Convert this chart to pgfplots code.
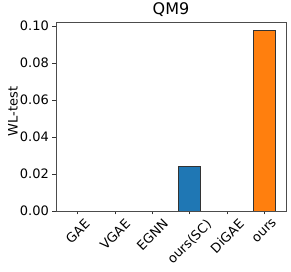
\documentclass[border=0pt]{standalone}
\usepackage{pgfplots}
\pgfplotsset{compat=1.18}
\usepackage{graphicx}
\usepackage{fontspec}
\setmainfont{DejaVu Sans}
\definecolor{mplblue}{HTML}{1F77B4}
\definecolor{mplorange}{HTML}{FF7F0E}
\begin{document}
\begin{tikzpicture}
\useasboundingbox (-56pt,-61pt) rectangle (235pt,211pt);
\begin{axis}[
  at={(0,0)}, anchor=south west,
  scale only axis, width=230pt, height=189pt,
  xmin=-0.58, xmax=5.58, ymin=0, ymax=0.1022,
  ybar, bar width=0.6, bar shift=0,
  xtick={0,1,2,3,4,5},
  xticklabels={\rotatebox{45}{GAE},\rotatebox{45}{VGAE},\rotatebox{45}{EGNN},\rotatebox{45}{ours(SC)},\rotatebox{45}{DiGAE},\rotatebox{45}{ours}},
  xticklabel style={anchor=north, inner sep=0pt, yshift=-3.5pt},
  ytick={0,0.02,0.04,0.06,0.08,0.10},
  /pgf/number format/fixed,
  /pgf/number format/fixed zerofill,
  /pgf/number format/precision=2,
  /pgf/number format/assume math mode=true,
  yticklabel style={inner sep=0pt, xshift=-3.5pt},
  tick align=outside, major tick length=3.5pt, tick pos=left,
  tick style={draw=black!80, line width=0.8pt},
  axis line style={draw=black!70, line width=0.8pt},
  ticklabel style={font=\fontsize{13}{15}\selectfont},
  title={QM9},
  title style={font=\fontsize{16}{19}\selectfont, anchor=base, at={(axis description cs:0.5,1)}, yshift=1pt},
  ylabel={WL-test},
  ylabel style={font=\fontsize{13}{15}\selectfont, at={(axis description cs:-0.1652,0.5265)}, anchor=south, inner sep=0pt},
]
\addplot[draw=black!20, fill=none, line width=0.8pt] coordinates {(0,0) (1,0) (2,0) (4,0)};
\addplot[draw=black!80, fill=mplblue, line width=0.8pt] coordinates {(3,0.0243)};
\addplot[draw=black!80, fill=mplorange, line width=0.8pt] coordinates {(5,0.0978)};
\end{axis}
\end{tikzpicture}
\end{document}
